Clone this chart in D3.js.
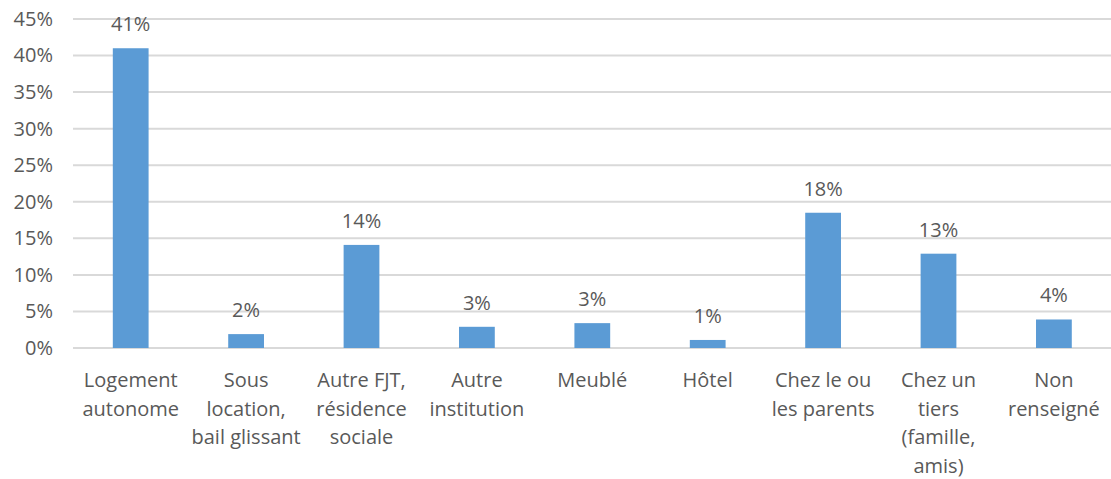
<!DOCTYPE html>
<html>
<head>
<meta charset="utf-8">
<script src="https://cdn.jsdelivr.net/npm/d3@7"></script>
<style>
    body { margin: 0; background: #fff; }
    text { font-family: "Open Sans", "Liberation Sans", sans-serif; fill: #595959; }
</style>
</head>
<body>
<div id="chart"></div>
<script>
// Chart data
const categories = [
    ["Logement", "autonome"],
    ["Sous", "location,", "bail glissant"],
    ["Autre FJT,", "résidence", "sociale"],
    ["Autre", "institution"],
    ["Meublé"],
    ["Hôtel"],
    ["Chez le ou", "les parents"],
    ["Chez un", "tiers", "(famille,", "amis)"],
    ["Non", "renseigné"]
];
const values = [41.0, 1.9, 14.1, 2.9, 3.4, 1.1, 18.5, 12.9, 3.9];
const valueLabels = ["41%", "2%", "14%", "3%", "3%", "1%", "18%", "13%", "4%"];
const yTicks = [0, 5, 10, 15, 20, 25, 30, 35, 40, 45];

const width = 1111, height = 479;
const margin = { top: 19, right: 0, bottom: 131, left: 73 };

let svg = d3.select('#chart')
    .append('svg')
    .attr('width', width)
    .attr('height', height);

// Scales
let xScale = d3.scaleBand()
    .domain(d3.range(categories.length))
    .range([margin.left, margin.left + 115.4 * categories.length])
    .paddingInner(0.69)
    .paddingOuter(0.345);

let yScale = d3.scaleLinear()
    .domain([0, 45])
    .range([height - margin.bottom, margin.top]);

// gridlines
svg.append('g')
    .selectAll('line')
    .data(yTicks)
    .enter()
    .append('line')
    .attr('x1', margin.left)
    .attr('x2', width)
    .attr('y1', d => yScale(d))
    .attr('y2', d => yScale(d))
    .attr('stroke', '#d9d9d9')
    .attr('stroke-width', 2);

// y axis labels
let yAxis = svg.append('g')
    .attr('transform', `translate(${margin.left}, 0)`)
    .call(d3.axisLeft(yScale).tickValues(yTicks).tickFormat(d => d + '%').tickSize(0).tickPadding(20));
yAxis.select('.domain').remove();
yAxis.selectAll('text')
    .style('font-size', '20px')
    .attr('fill', '#595959');

// bars
svg.selectAll('.bar')
    .data(values)
    .enter()
    .append('rect')
    .attr('class', 'bar')
    .attr('x', (d, i) => xScale(i))
    .attr('y', d => yScale(d))
    .attr('width', xScale.bandwidth())
    .attr('height', d => yScale(0) - yScale(d))
    .attr('fill', '#5b9bd5');

// value labels
svg.selectAll('.valueLabel')
    .data(values)
    .enter()
    .append('text')
    .attr('class', 'valueLabel')
    .attr('x', (d, i) => xScale(i) + xScale.bandwidth() / 2)
    .attr('y', d => yScale(d) - 17)
    .attr('text-anchor', 'middle')
    .style('font-size', '20px')
    .text((d, i) => valueLabels[i]);

// category labels (one tspan per line)
let catLabel = svg.selectAll('.catLabel')
    .data(categories)
    .enter()
    .append('text')
    .attr('class', 'catLabel')
    .attr('text-anchor', 'middle')
    .style('font-size', '20px');

catLabel.selectAll('tspan')
    .data((d, i) => d.map(line => ({ line: line, i: i })))
    .enter()
    .append('tspan')
    .attr('x', d => xScale(d.i) + xScale.bandwidth() / 2)
    .attr('y', (d, j) => yScale(0) + 39 + j * 28.5)
    .text(d => d.line);
</script>
</body>
</html>
